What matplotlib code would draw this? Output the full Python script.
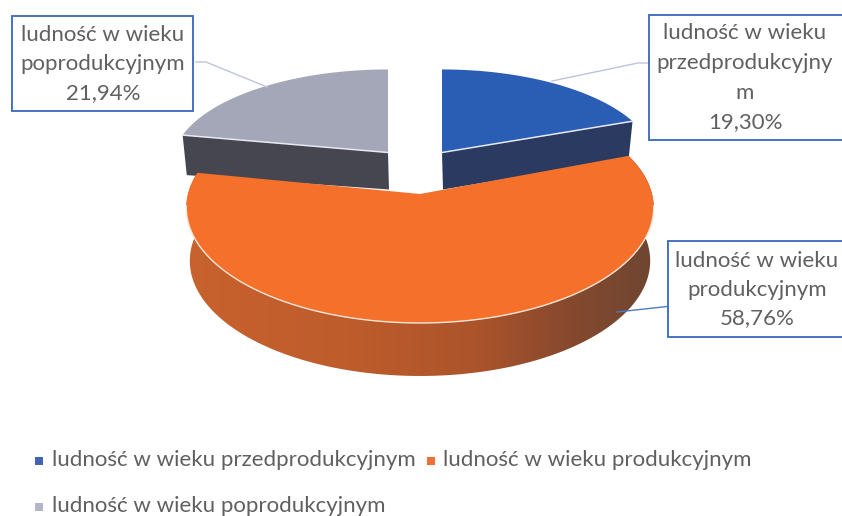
import numpy as np
import matplotlib
matplotlib.use('Agg')
import matplotlib.pyplot as plt
from matplotlib.patches import Polygon, Rectangle
from matplotlib.colors import LinearSegmentedColormap

plt.rcParams['font.family'] = ['Lato', 'DejaVu Sans']

names = ['ludność w wieku przedprodukcyjnym', 'ludność w wieku produkcyjnym', 'ludność w wieku poprodukcyjnym']
shares = [19.30, 58.76, 21.94]
share_labels = ['19,30%', '58,76%', '21,94%']
top_colors = ['#2A5DB4', '#F4702B', '#A4A7B7']
wall_colors = ['#2A3A60', '#B5582B', '#45464F']
legend_colors = ['#3F63B5', '#F0703A', '#B4B6C8']
text_color = '#606060'
box_color = '#4472C4'

fig = plt.figure(figsize=(8.42, 5.16), dpi=100)
ax = fig.add_axes([0, 0, 1, 1])

# slice angles, clockwise from the back of the pie
edges = np.cumsum([0] + shares) / 100 * 2 * np.pi


# perspective of the pie: things further back get smaller
def project(theta, cx, cy, a, b, k=0.12):
    u = np.sin(theta)
    v = -np.cos(theta)
    w = 1 - k * v
    return cx + a * u / w, cy + b * v / w


def slice_outline(i, cx, cy, a, b):
    th = np.linspace(edges[i], edges[i + 1], 200)
    x, y = project(th, cx, cy, a, b)
    return x, y


# back slices: grey on the left, blue on the right
for i, cx, a in [(2, 388, 214), (0, 442, 212)]:
    cy, b, h = 152.5, 93, 37
    x, y = slice_outline(i, cx, cy, a, b)
    # front wall runs between the rim corner and the tip
    corner = (x[0], y[0]) if i == 2 else (x[-1], y[-1])
    wall = [(cx, cy), corner,
            (cx + (corner[0] - cx) * 0.98, corner[1] + h + (3 if i == 2 else 0)),
            (cx + 1, cy + h)]
    ax.add_patch(Polygon(wall, closed=True, fc=wall_colors[i], ec='none', zorder=2))
    pts = np.column_stack([np.r_[cx, x], np.r_[cy, y]])
    ax.add_patch(Polygon(pts, closed=True, fc=top_colors[i], ec='none', zorder=3))
    ax.plot([cx, corner[0]], [cy, corner[1]], color='#E6E9F2', lw=1.1, zorder=4)

# big orange slice in front
cx, cy, a, b, h = 420, 194, 232, 113.5, 53
th = np.linspace(edges[1], edges[2], 400)
x, y = project(th, cx, cy, a, b)
x2, y2 = project(th, cx, cy, a * 0.985, b)
y2 = y2 + h
# wall colour goes from orange-brown on the left to dark brown on the right
wall_cmap = LinearSegmentedColormap.from_list('wall', [(0.0, '#C8622E'), (0.35, '#BE5C2C'), (0.62, '#AC542B'),
                                                       (0.82, '#86492E'), (1.0, '#6E4632')])
wall_poly = Polygon(np.column_stack([np.r_[x, x2[::-1]], np.r_[y, y2[::-1]]]), closed=True,
                    fc='none', ec='none', zorder=5)
ax.add_patch(wall_poly)
grad = ax.imshow(np.linspace(0, 1, 256).reshape(1, -1), cmap=wall_cmap, aspect='auto',
                 extent=(186, 654, 400, 150), zorder=5)
grad.set_clip_path(wall_poly)
pts = np.column_stack([np.r_[cx, x], np.r_[cy, y]])
ax.add_patch(Polygon(pts, closed=True, fc=top_colors[1], ec='none', zorder=6))
# light rim only along the front where the wall shows
front = -np.cos(th) > 0.1
ax.plot(x[front], y[front], color='#FBE6D8', lw=1.0, zorder=7)

# leader lines
ax.plot([196, 206, 267], [62, 62, 87], color='#BCC4DE', lw=1.0, zorder=8)
ax.plot([649, 638, 552], [63, 63, 81], color='#BCC4DE', lw=1.0, zorder=8)
ax.plot([672, 617], [306, 312], color='#4A7AC8', lw=1.0, zorder=8)

# label boxes, two of them run off the right edge
boxes = [(12, 16, 181, 95), (649, 15, 220, 125), (668, 241, 200, 96)]
for bx, by, bw, bh in boxes:
    ax.add_patch(Rectangle((bx, by), bw, bh, fc='white', ec=box_color, lw=1.4, zorder=9))

label_font = 16
for line, tx, ty in [('ludność w wieku', 103, 35), ('poprodukcyjnym', 103, 64), (share_labels[2], 103, 93),
                     ('ludność w wieku', 745, 33), ('przedprodukcyjny', 745, 63), ('m', 745, 93),
                     (share_labels[0], 745, 122),
                     ('ludność w wieku', 757, 261), ('produkcyjnym', 757, 290), (share_labels[1], 757, 318)]:
    ax.text(tx, ty, line, ha='center', va='center', fontsize=label_font, color=text_color, zorder=10)

# legend
legend_pos = [(39, 461, 52), (431, 461, 443), (39, 507, 52)]
for i, (mx, my, tx) in enumerate(legend_pos):
    ax.scatter([mx], [my], marker='s', s=26, color=legend_colors[i], linewidths=0, zorder=10)
    ax.text(tx, my - 0.5, names[i], ha='left', va='center', fontsize=16, color=text_color, zorder=10)

ax.set_xlim(0, 842)
ax.set_ylim(516, 0)
ax.axis('off')

fig.savefig('out.png', dpi=100)
